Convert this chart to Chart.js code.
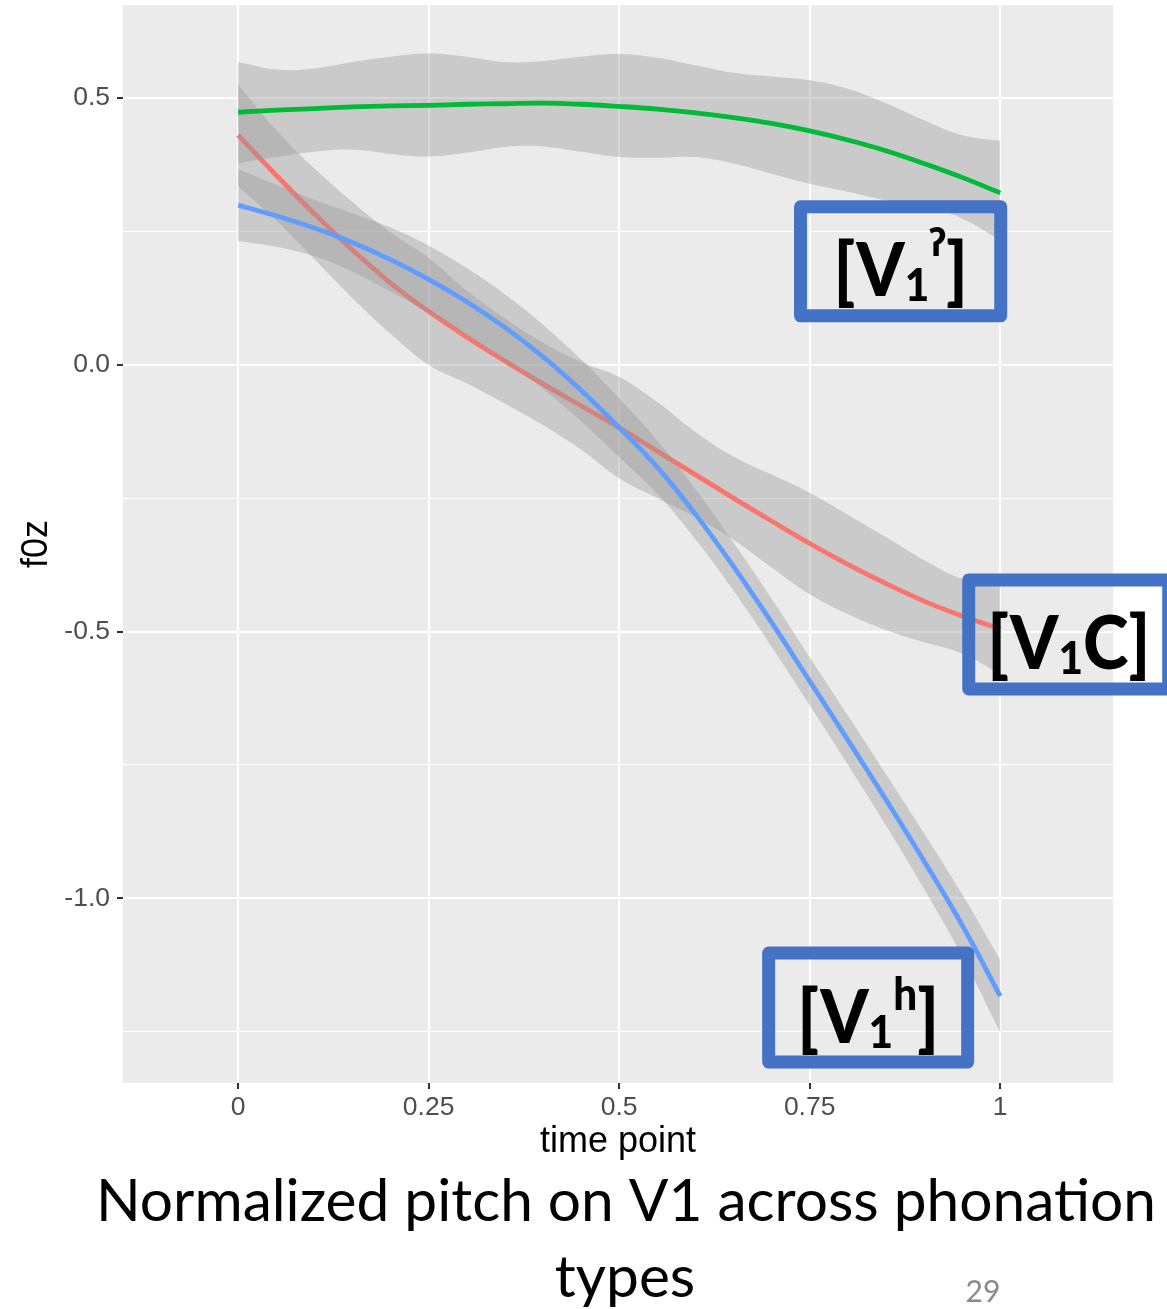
<!DOCTYPE html>
<html>
<head>
<meta charset="utf-8">
<title>Normalized pitch on V1 across phonation types</title>
<script src="https://cdn.jsdelivr.net/npm/chart.js@4.4.1/dist/chart.umd.min.js"></script>
<style>
  html, body { margin: 0; padding: 0; background: #ffffff; }
  #wrap { position: relative; width: 1167px; height: 1309px; }
  canvas { display: block; }
</style>
</head>
<body>
<div id="wrap"><canvas id="chart" width="1167" height="1309"></canvas></div>
<script>
// Normalized time points at which the smoothed f0 curves are sampled
const timePoints = [0, 0.05, 0.10, 0.15, 0.20, 0.25, 0.30, 0.35, 0.40, 0.45, 0.50,
                    0.55, 0.60, 0.65, 0.70, 0.75, 0.80, 0.85, 0.90, 0.95, 1.00];

// [V1C] (red): smoothed f0z and its confidence band
const v1cFit   = [0.430, 0.355, 0.283, 0.215, 0.153, 0.100, 0.052, 0.007, -0.036, -0.077, -0.118,
                  -0.162, -0.206, -0.250, -0.293, -0.335, -0.374, -0.410, -0.443, -0.471, -0.495];
const v1cUpper = [0.525, 0.440, 0.368, 0.305, 0.248, 0.200, 0.139, 0.087, 0.041, 0.005, -0.023,
                  -0.070, -0.126, -0.172, -0.206, -0.240, -0.281, -0.323, -0.366, -0.401, -0.410];
const v1cLower = [0.335, 0.270, 0.198, 0.125, 0.058, 0.000, -0.035, -0.073, -0.113, -0.159, -0.213,
                  -0.250, -0.286, -0.328, -0.380, -0.430, -0.467, -0.497, -0.520, -0.541, -0.580];

// [V1ʔ] (green)
const v1qFit   = [0.473, 0.477, 0.480, 0.483, 0.485, 0.486, 0.488, 0.489, 0.490, 0.488, 0.484,
                  0.479, 0.472, 0.463, 0.452, 0.438, 0.421, 0.401, 0.377, 0.351, 0.322];
const v1qUpper = [0.567, 0.553, 0.555, 0.567, 0.577, 0.583, 0.577, 0.567, 0.569, 0.577, 0.582,
                  0.575, 0.561, 0.547, 0.540, 0.533, 0.517, 0.490, 0.458, 0.430, 0.419];
const v1qLower = [0.377, 0.389, 0.399, 0.403, 0.395, 0.390, 0.397, 0.408, 0.409, 0.399, 0.389,
                  0.388, 0.389, 0.377, 0.358, 0.339, 0.324, 0.308, 0.299, 0.274, 0.233];

// [V1h] (blue)
const v1hFit   = [0.299, 0.279, 0.256, 0.229, 0.197, 0.160, 0.118, 0.070, 0.015, -0.048, -0.118,
                  -0.192, -0.280, -0.378, -0.483, -0.593, -0.703, -0.815, -0.930, -1.050, -1.183];
const v1hUpper = [0.366, 0.337, 0.309, 0.284, 0.257, 0.223, 0.181, 0.132, 0.075, 0.010, -0.063,
                  -0.142, -0.233, -0.333, -0.438, -0.548, -0.657, -0.767, -0.878, -0.992, -1.115];
const v1hLower = [0.232, 0.221, 0.203, 0.174, 0.137, 0.097, 0.055, 0.008, -0.045, -0.106, -0.173,
                  -0.242, -0.327, -0.423, -0.528, -0.638, -0.749, -0.863, -0.982, -1.108, -1.251];

// Axis ticks
const xTickValues = [0, 0.25, 0.5, 0.75, 1];
const xTickLabels = ['0', '0.25', '0.5', '0.75', '1'];
const yMajorTicks = [-1.0, -0.5, 0.0, 0.5];
const yMajorLabels = ['-1.0', '-0.5', '0.0', '0.5'];
const yMinorTicks = [-1.25, -0.75, -0.25, 0.25];

const captionLines = ['Normalized pitch on V1 across phonation', 'types'];
const slideNumber = '29';

// ---------------------------------------------------------------------------
const AXIS_FONT = '"Liberation Sans", Arial, Helvetica, sans-serif';
const BAND_FILL = 'rgba(153,153,153,0.4)';
const SERIES = [
  { fit: v1cFit, upper: v1cUpper, lower: v1cLower, color: '#F8766D' },
  { fit: v1qFit, upper: v1qUpper, lower: v1qLower, color: '#00BA38' },
  { fit: v1hFit, upper: v1hUpper, lower: v1hLower, color: '#619CFF' }
];

const toPoints = arr => timePoints.map((t, i) => ({ x: t, y: arr[i] }));

// Each group: band (lower edge + upper edge filled down to it), then the fitted line.
// Later groups are painted over earlier ones.
const datasets = [];
let order = 100;
SERIES.forEach(s => {
  datasets.push({ data: toPoints(s.lower), borderWidth: 0, borderColor: 'rgba(0,0,0,0)',
                  pointRadius: 0, fill: false, order: order-- });
  datasets.push({ data: toPoints(s.upper), borderWidth: 0, borderColor: 'rgba(0,0,0,0)',
                  backgroundColor: BAND_FILL, pointRadius: 0, fill: '-1', order: order-- });
  datasets.push({ data: toPoints(s.fit), borderColor: s.color, borderWidth: 4.8,
                  pointRadius: 0, fill: false, order: order-- });
});

const isMajorY = v => yMajorTicks.some(m => Math.abs(m - v) < 1e-9);

// Annotation tags, placed in data units
const TAG_FONT = 'Lato, "Open Sans", sans-serif';
const tagStyles = {
  main: { font: '900 75px ' + TAG_FONT, dy: 0 },
  sub:  { font: '900 46px ' + TAG_FONT, dy: 5 },
  supH: { font: '900 46px ' + TAG_FONT, dy: -33 },
  supQ: { font: 'bold 38px "Noto Sans", "DejaVu Sans", sans-serif', dy: -40 }
};
const TAG_SQUEEZE = 0.92;
const tags = [
  { x0: 0.738, x1: 1.0007, y0: 0.296, y1: 0.0915,
    parts: [['[V', 'main'], ['1', 'sub'], ['ʔ', 'supQ'], [']', 'main']] },
  { x0: 0.9587, x1: 1.2211, y0: -0.4034, y1: -0.6077,
    parts: [['[V', 'main'], ['1', 'sub'], ['C]', 'main']] },
  { x0: 0.6962, x1: 0.9573, y0: -1.1025, y1: -1.3068,
    parts: [['[V', 'main'], ['1', 'sub'], ['h', 'supH'], [']', 'main']] }
];

function drawTag(ctx, tag, xs, ys) {
  const left = xs.getPixelForValue(tag.x0), right = xs.getPixelForValue(tag.x1);
  const top = ys.getPixelForValue(tag.y0), bottom = ys.getPixelForValue(tag.y1);
  ctx.save();
  ctx.strokeStyle = '#4472C4';
  ctx.lineWidth = 13;
  ctx.lineJoin = 'round';
  ctx.strokeRect(left, top, right - left, bottom - top);

  const pieces = tag.parts.map(([text, role]) => {
    const st = tagStyles[role];
    ctx.font = st.font;
    return { text, st, w: ctx.measureText(text).width * TAG_SQUEEZE };
  });
  const total = pieces.reduce((s, p) => s + p.w, 0);
  let x = (left + right) / 2 - total / 2;
  const base = (top + bottom) / 2 + 35;
  ctx.fillStyle = '#000000';
  ctx.textAlign = 'left';
  ctx.textBaseline = 'alphabetic';
  pieces.forEach(p => {
    ctx.save();
    ctx.font = p.st.font;
    ctx.translate(x, base + p.st.dy);
    ctx.scale(TAG_SQUEEZE, 1);
    ctx.fillText(p.text, 0, 0);
    ctx.restore();
    x += p.w;
  });
  ctx.restore();
}

const sceneryPlugin = {
  id: 'scenery',
  beforeDraw(chart) {
    const { ctx, chartArea: a } = chart;
    ctx.save();
    ctx.fillStyle = '#EBEBEB';
    ctx.fillRect(a.left, a.top, a.right - a.left, a.bottom - a.top);
    ctx.restore();
  },
  afterDraw(chart) {
    const { ctx } = chart;
    const xs = chart.scales.x, ys = chart.scales.y;
    tags.forEach(t => drawTag(ctx, t, xs, ys));

    // slide caption, sized to span the slide text width
    ctx.save();
    ctx.fillStyle = '#000000';
    ctx.textAlign = 'center';
    ctx.textBaseline = 'alphabetic';
    ctx.font = '57px Lato, "Open Sans", sans-serif';
    const w = ctx.measureText(captionLines[0]).width;
    const size = 57 * 1060 / w;
    ctx.font = size.toFixed(2) + 'px Lato, "Open Sans", sans-serif';
    ctx.fillText(captionLines[0], 626, 1221);
    ctx.fillText(captionLines[1], 625, 1297);

    ctx.fillStyle = '#8A8A8A';
    ctx.font = '30px Lato, "Open Sans", sans-serif';
    ctx.fillText(slideNumber, 983, 1302);
    ctx.restore();
  }
};

new Chart(document.getElementById('chart'), {
  type: 'line',
  data: { datasets },
  options: {
    responsive: false,
    animation: false,
    events: [],
    devicePixelRatio: 1,
    layout: { padding: { top: 5, right: 54, bottom: 0, left: 0 } },
    elements: {
      point: { radius: 0 },
      line: { tension: 0.4, capBezierPoints: true }
    },
    plugins: {
      legend: { display: false },
      tooltip: { enabled: false },
      title: { display: false },
      filler: { propagate: false }
    },
    scales: {
      x: {
        type: 'linear',
        min: -0.151,
        max: 1.148,
        afterBuildTicks: s => { s.ticks = xTickValues.map(v => ({ value: v })); },
        afterFit: s => { s.height = 226; s.paddingLeft = 0; s.paddingRight = 0; },
        border: { display: false },
        grid: { color: '#FFFFFF', lineWidth: 2, tickLength: 6, tickWidth: 2, tickColor: '#333333' },
        ticks: {
          autoSkip: false, maxRotation: 0, padding: 3, color: '#4D4D4D',
          font: { family: AXIS_FONT, size: 26.5, lineHeight: 1.2 },
          callback: (v, i) => xTickLabels[i]
        },
        title: {
          display: true, text: 'time point', color: '#000000',
          font: { family: AXIS_FONT, size: 36, lineHeight: 1 },
          padding: { top: 0, bottom: 148.5 }
        }
      },
      y: {
        type: 'linear',
        min: -1.346,
        max: 0.674,
        afterBuildTicks: s => {
          s.ticks = yMinorTicks.concat(yMajorTicks).sort((a, b) => a - b).map(v => ({ value: v }));
        },
        afterFit: s => { s.width = 123; s.paddingTop = 0; s.paddingBottom = 0; },
        border: { display: false },
        grid: {
          color: '#FFFFFF',
          lineWidth: c => (c.tick && isMajorY(c.tick.value)) ? 2 : 1,
          tickLength: 6,
          tickWidth: 2,
          tickColor: c => (c.tick && isMajorY(c.tick.value)) ? '#333333' : 'rgba(0,0,0,0)'
        },
        ticks: {
          autoSkip: false, padding: 7, color: '#4D4D4D',
          font: { family: AXIS_FONT, size: 26.5, lineHeight: 1.2 },
          callback: v => {
            const i = yMajorTicks.findIndex(m => Math.abs(m - v) < 1e-9);
            return i >= 0 ? yMajorLabels[i] : '';
          }
        },
        title: {
          display: true, text: 'f0z', color: '#000000',
          font: { family: AXIS_FONT, size: 36, lineHeight: 1 },
          padding: { top: 19.5, bottom: 0 }
        }
      }
    }
  },
  plugins: [sceneryPlugin]
});
</script>
</body>
</html>
